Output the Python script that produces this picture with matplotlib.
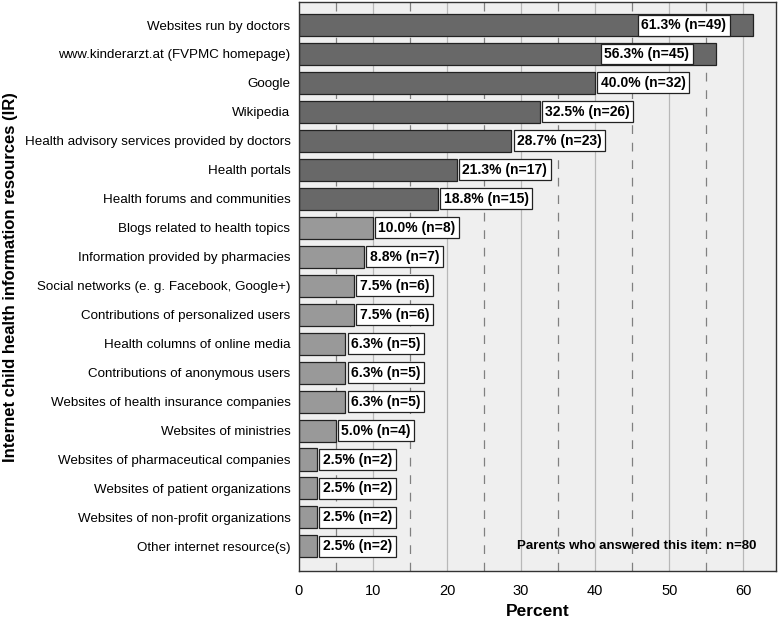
import matplotlib
matplotlib.use("Agg")
import matplotlib.pyplot as plt
import numpy as np

plt.rcParams["font.family"] = ["Liberation Sans", "DejaVu Sans"]

categories = [
    "Websites run by doctors",
    "www.kinderarzt.at (FVPMC homepage)",
    "Google",
    "Wikipedia",
    "Health advisory services provided by doctors",
    "Health portals",
    "Health forums and communities",
    "Blogs related to health topics",
    "Information provided by pharmacies",
    "Social networks (e. g. Facebook, Google+)",
    "Contributions of personalized users",
    "Health columns of online media",
    "Contributions of anonymous users",
    "Websites of health insurance companies",
    "Websites of ministries",
    "Websites of pharmaceutical companies",
    "Websites of patient organizations",
    "Websites of non-profit organizations",
    "Other internet resource(s)",
]
percents = [61.3, 56.3, 40.0, 32.5, 28.7, 21.3, 18.8, 10.0, 8.8, 7.5, 7.5,
            6.3, 6.3, 6.3, 5.0, 2.5, 2.5, 2.5, 2.5]
counts = [49, 45, 32, 26, 23, 17, 15, 8, 7, 6, 6, 5, 5, 5, 4, 2, 2, 2, 2]
n_dark = 7  # top group drawn darker

fig = plt.figure(figsize=(7.78, 6.2), dpi=100)
ax = fig.add_axes([0.384, 0.079, 0.6135, 0.918])
ax.set_facecolor("#efefef")

y = np.arange(len(categories))
colors = ["#686868" if i < n_dark else "#999999" for i in range(len(categories))]

# grid behind bars
for v in range(10, 61, 10):
    ax.axvline(v, color="#b8b8b8", lw=0.9, zorder=1)
for v in range(5, 60, 10):
    ax.axvline(v, color="#808080", lw=0.9, ls=(0, (7, 7)), zorder=1)

ax.barh(y, percents, height=0.76, color=colors, edgecolor="#222222",
        linewidth=0.9, zorder=2)

for i, (p, n) in enumerate(zip(percents, counts)):
    label = f"{p:.1f}% (n={n})"
    box = dict(boxstyle="square,pad=0.25", fc="white", ec="#222222", lw=0.9)
    if p > 50:
        ax.text(p - 3.6, i, label, ha="right", va="center", fontsize=10,
                fontweight="bold", bbox=box, zorder=3)
    else:
        ax.text(p + 0.75, i, label, ha="left", va="center", fontsize=10,
                fontweight="bold", bbox=box, zorder=3)

ax.text(61.7, 18, "Parents who answered this item: n=80", ha="right",
        va="center", fontsize=9.5, fontweight="bold", zorder=3)

ax.set_xlim(0, 64.4)
ax.set_ylim(18.85, -0.8)
ax.set_xticks(range(0, 61, 10))
ax.set_yticks(y)
ax.set_yticklabels(categories, fontsize=9.6)
ax.tick_params(axis="y", length=0, pad=6)
ax.tick_params(axis="x", length=0, labelsize=10.5, pad=9)
for s in ax.spines.values():
    s.set_color("#333333")
    s.set_linewidth(1.0)

# axis titles placed directly on the figure
fig.text(538 / 778, 1 - 612 / 620, "Percent", ha="center", va="center",
         fontsize=12.5, fontweight="bold")
fig.text(11 / 778, 1 - 277 / 620,
         "Internet child health information resources (IR)",
         rotation=90, ha="center", va="center", fontsize=12, fontweight="bold")

fig.savefig("out.png", dpi=100)
